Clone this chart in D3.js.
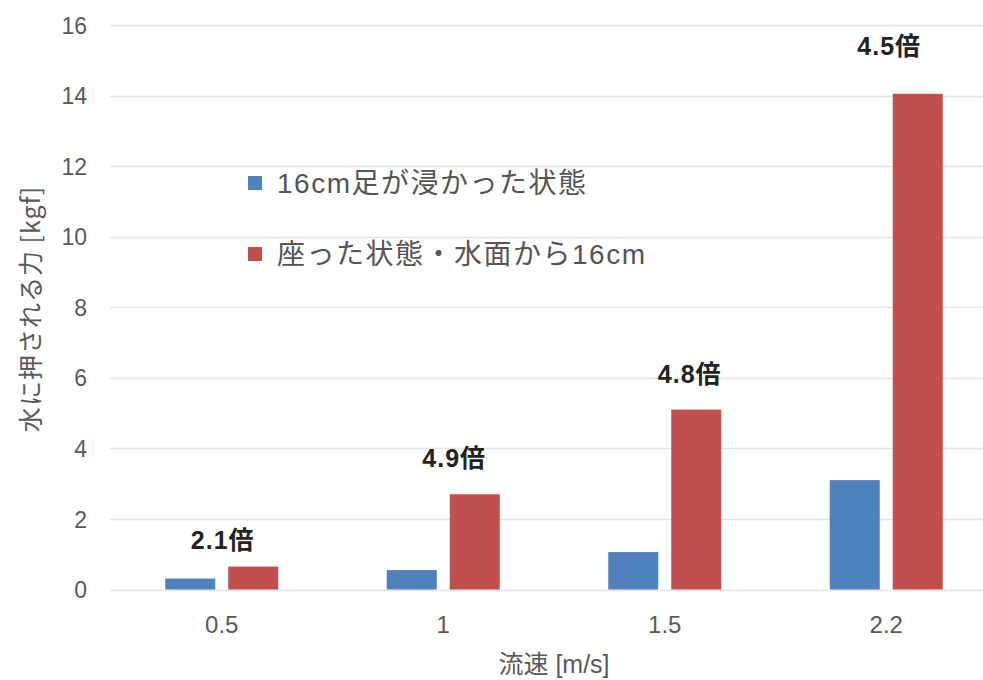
<!DOCTYPE html>
<html>
<head>
<meta charset="utf-8">
<script src="https://cdn.jsdelivr.net/npm/d3@7/dist/d3.min.js"></script>
<style>
  html, body { margin: 0; padding: 0; background: #fff; }
  svg { display: block; }
</style>
</head>
<body>
<div id="chart"></div>
<script>
// ---- data ----
const categories = ["0.5", "1", "1.5", "2.2"];
const seriesNames = ["16cm足が浸かった状態", "座った状態・水面から16cm"];
const footValues = [0.31, 0.55, 1.06, 3.1];
const sittingValues = [0.65, 2.7, 5.1, 14.05];
const ratioLabels = ["2.1倍", "4.9倍", "4.8倍", "4.5倍"];
const yTicks = [0, 2, 4, 6, 8, 10, 12, 14, 16];
const yAxisTitle = "水に押される力 [kgf]";
const xAxisTitle = "流速 [m/s]";

// ---- layout ----
const W = 983, H = 680;
const colors = ["#4f81bd", "#c0504d"];
const latin = "'Liberation Sans', 'Noto Sans CJK JP', sans-serif";
const cjk = "'Noto Sans CJK JP', 'Liberation Sans', sans-serif";

const svg = d3.select("#chart").append("svg")
  .attr("width", W).attr("height", H);

const x = d3.scaleBand().domain(categories).range([111, 997]).padding(0);
const x1 = d3.scaleBand().domain([0, 1]).range([-56.5, 56.5]).paddingInner(0.206).paddingOuter(0);
const y = d3.scaleLinear().domain([0, 16]).range([589.5, 25]);

// gridlines
svg.append("g").selectAll("line").data(yTicks).join("line")
  .attr("x1", 110).attr("x2", W)
  .attr("y1", d => Math.round(y(d)) + 0.5).attr("y2", d => Math.round(y(d)) + 0.5)
  .attr("stroke", "#e3e3e3").attr("stroke-width", 1.5);

// y axis tick labels
const yAxis = d3.axisLeft(y).tickValues(yTicks).tickSize(0).tickPadding(0);
const gy = svg.append("g").attr("transform", "translate(87,0)").call(yAxis);
gy.select(".domain").remove();
gy.selectAll("text").attr("font-family", latin).attr("font-size", 23)
  .attr("fill", "#595959").attr("dy", "0.35em");

// x axis tick labels
const xAxis = d3.axisBottom(x).tickSize(0).tickPadding(0);
const gx = svg.append("g").attr("transform", "translate(0,625)").call(xAxis);
gx.select(".domain").remove();
gx.selectAll("text").attr("font-family", latin).attr("font-size", 24)
  .attr("fill", "#595959").attr("dy", "0.35em");

// bars
const rows = categories.map((c, i) => ({ c, vals: [footValues[i], sittingValues[i]] }));
const groups = svg.append("g").selectAll("g").data(rows).join("g")
  .attr("transform", d => `translate(${x(d.c) + x.bandwidth() / 2},0)`);
groups.selectAll("rect").data(d => d.vals.map((v, k) => ({ v, k }))).join("rect")
  .attr("x", d => x1(d.k))
  .attr("width", x1.bandwidth())
  .attr("y", d => y(d.v))
  .attr("height", d => y(0) - y(d.v))
  .attr("fill", d => colors[d.k]);

// ratio annotations (manually placed in the original)
const labelDx = [1, 11, 25, 3];
const labelY = [1.40, 3.73, 6.09, 15.39];
svg.append("g").selectAll("text").data(ratioLabels).join("text")
  .attr("x", (d, i) => x(categories[i]) + x.bandwidth() / 2 + labelDx[i])
  .attr("y", (d, i) => y(labelY[i]))
  .attr("dy", "0.35em")
  .attr("text-anchor", "middle")
  .attr("font-family", latin).attr("font-weight", "bold").attr("font-size", 25)
  .attr("letter-spacing", 1)
  .attr("fill", "#222")
  .text(d => d);

// legend
const legend = svg.append("g");
const legY = [183, 254];
seriesNames.forEach((name, i) => {
  legend.append("rect").attr("x", 248).attr("y", legY[i] - 7).attr("width", 14).attr("height", 14)
    .attr("fill", colors[i]);
  legend.append("text").attr("x", 277).attr("y", legY[i]).attr("dy", "0.35em")
    .attr("font-family", latin).attr("font-size", 28).attr("letter-spacing", 1.5)
    .attr("fill", "#555").text(name);
});

// axis titles
svg.append("text")
  .attr("transform", "translate(31,309) rotate(-90)")
  .attr("text-anchor", "middle").attr("dy", "0.35em")
  .attr("font-family", cjk).attr("font-size", 25).attr("letter-spacing", 1)
  .attr("fill", "#595959").text(yAxisTitle);

svg.append("text")
  .attr("x", 554).attr("y", 664).attr("dy", "0.35em")
  .attr("text-anchor", "middle")
  .attr("font-family", latin).attr("font-size", 25)
  .attr("fill", "#595959").text(xAxisTitle);
</script>
</body>
</html>
